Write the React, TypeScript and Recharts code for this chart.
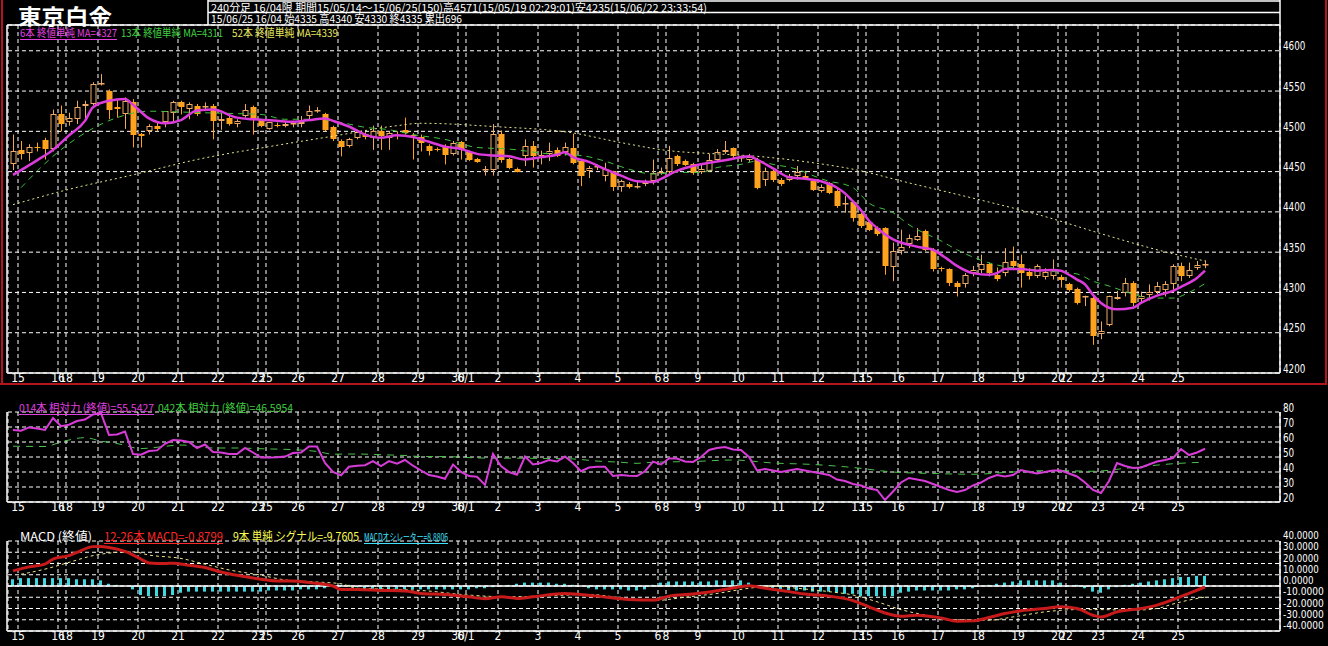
import React from 'react';
import { ComposedChart, Bar, Line, XAxis, YAxis, CartesianGrid, ReferenceLine } from 'recharts';

// 240-minute bars, 15/05/14 - 15/06/25 (150 bars)
const opens = [
  4459, 4477, 4473, 4481, 4489, 4478, 4521, 4512, 4515, 4532,
  4534, 4559, 4550, 4530, 4521, 4536, 4497, 4500, 4507, 4511,
  4523, 4537, 4528, 4532, 4530, 4532, 4513, 4517, 4509, 4519,
  4530, 4515, 4503, 4508, 4507, 4509, 4509, 4519, 4525, 4521,
  4505, 4488, 4482, 4492, 4497, 4492, 4500, 4492, 4496, 4502,
  4495, 4493, 4482, 4478, 4482, 4472, 4487, 4474, 4466, 4452,
  4452, 4497, 4466, 4453, 4470, 4482, 4470, 4472, 4477, 4474,
  4479, 4463, 4451, 4456, 4444, 4451, 4431, 4435, 4431, 4435,
  4438, 4448, 4450, 4470, 4463, 4460, 4450, 4451, 4465, 4474,
  4479, 4467, 4465, 4465, 4440, 4451, 4440, 4440, 4444, 4445,
  4438, 4426, 4436, 4426, 4410, 4412, 4397, 4388, 4380, 4380,
  4331, 4351, 4360, 4365, 4376, 4353, 4330, 4329, 4312, 4310,
  4324, 4328, 4335, 4322, 4324, 4339, 4335, 4326, 4320, 4319,
  4321, 4319, 4310, 4304, 4294, 4293, 4248, 4260, 4292, 4299,
  4312, 4292, 4297, 4300, 4303, 4310, 4333, 4320, 4330, 4335,
];
const highs = [
  4496, 4488, 4484, 4486, 4492, 4527, 4532, 4523, 4538, 4538,
  4561, 4571, 4552, 4540, 4542, 4540, 4498, 4509, 4511, 4525,
  4538, 4538, 4536, 4534, 4536, 4534, 4523, 4519, 4515, 4534,
  4532, 4515, 4511, 4511, 4512, 4513, 4519, 4532, 4530, 4523,
  4507, 4490, 4492, 4500, 4499, 4507, 4507, 4500, 4500, 4517,
  4498, 4496, 4484, 4480, 4484, 4488, 4488, 4476, 4467, 4457,
  4509, 4501, 4467, 4455, 4490, 4488, 4476, 4486, 4480, 4486,
  4497, 4463, 4457, 4459, 4461, 4451, 4440, 4437, 4438, 4440,
  4465, 4455, 4482, 4471, 4465, 4461, 4459, 4472, 4478, 4488,
  4480, 4470, 4472, 4467, 4455, 4453, 4442, 4447, 4457, 4451,
  4440, 4434, 4437, 4428, 4420, 4413, 4399, 4390, 4382, 4381,
  4362, 4378, 4372, 4380, 4378, 4355, 4332, 4330, 4314, 4324,
  4333, 4347, 4337, 4331, 4355, 4357, 4347, 4330, 4335, 4330,
  4341, 4322, 4312, 4306, 4296, 4295, 4264, 4296, 4302, 4318,
  4314, 4301, 4310, 4313, 4314, 4335, 4337, 4337, 4339, 4340,
];
const lows = [
  4452, 4465, 4463, 4475, 4465, 4475, 4500, 4507, 4509, 4515,
  4532, 4557, 4515, 4517, 4503, 4480, 4480, 4496, 4500, 4505,
  4511, 4521, 4515, 4519, 4525, 4490, 4502, 4507, 4505, 4517,
  4496, 4505, 4502, 4505, 4505, 4505, 4505, 4515, 4523, 4500,
  4488, 4469, 4480, 4490, 4490, 4477, 4477, 4477, 4490, 4496,
  4465, 4475, 4470, 4475, 4459, 4470, 4465, 4463, 4461, 4445,
  4445, 4461, 4453, 4449, 4457, 4455, 4459, 4463, 4468, 4470,
  4459, 4432, 4442, 4452, 4438, 4426, 4425, 4429, 4429, 4432,
  4434, 4446, 4447, 4457, 4457, 4446, 4447, 4450, 4463, 4472,
  4467, 4462, 4462, 4428, 4432, 4437, 4432, 4438, 4440, 4440,
  4426, 4424, 4422, 4405, 4399, 4388, 4380, 4376, 4370, 4322,
  4314, 4347, 4355, 4364, 4351, 4326, 4326, 4308, 4295, 4306,
  4320, 4324, 4320, 4314, 4320, 4329, 4306, 4316, 4318, 4316,
  4316, 4306, 4301, 4285, 4283, 4235, 4242, 4258, 4291, 4295,
  4283, 4288, 4290, 4298, 4295, 4300, 4314, 4318, 4328, 4330,
];
const closes = [
  4475, 4472, 4481, 4480, 4478, 4521, 4509, 4516, 4530, 4534,
  4559, 4560, 4527, 4528, 4538, 4496, 4494, 4507, 4503, 4525,
  4536, 4530, 4534, 4521, 4532, 4513, 4515, 4509, 4513, 4527,
  4515, 4507, 4511, 4507, 4509, 4510, 4512, 4525, 4527, 4502,
  4490, 4481, 4491, 4499, 4493, 4500, 4494, 4498, 4495, 4498,
  4494, 4486, 4476, 4477, 4471, 4486, 4478, 4464, 4462, 4453,
  4497, 4465, 4455, 4450, 4482, 4470, 4471, 4476, 4470, 4480,
  4461, 4445, 4455, 4457, 4453, 4431, 4438, 4431, 4432, 4437,
  4448, 4450, 4467, 4459, 4458, 4448, 4453, 4465, 4474, 4477,
  4469, 4468, 4468, 4430, 4451, 4440, 4435, 4444, 4450, 4442,
  4427, 4431, 4424, 4407, 4411, 4392, 4382, 4378, 4372, 4333,
  4351, 4357, 4367, 4370, 4353, 4329, 4329, 4312, 4307, 4322,
  4328, 4335, 4324, 4317, 4338, 4333, 4324, 4320, 4333, 4326,
  4328, 4315, 4303, 4287, 4295, 4246, 4252, 4295, 4294, 4312,
  4287, 4296, 4300, 4308, 4310, 4333, 4320, 4328, 4334, 4335,
];

// moving averages as [bar, value]
const ma6Pts = [
  [0, 4446], [3, 4464], [5, 4477], [7, 4495], [9, 4513], [10, 4530], [12, 4538], [14, 4540],
  [15, 4533], [17, 4516], [19, 4510], [21, 4514], [23, 4526], [25, 4527], [28, 4517], [30, 4515],
  [33, 4513], [35, 4512], [37, 4514], [39, 4516], [40, 4513], [42, 4506], [44, 4496], [46, 4492],
  [48, 4495], [50, 4493], [52, 4487], [54, 4481], [56, 4478], [58, 4472], [60, 4470], [62, 4469],
  [64, 4465], [66, 4468], [68, 4471], [69, 4474], [70, 4468], [72, 4462], [74, 4453], [76, 4445],
  [78, 4438], [80, 4437], [81, 4441], [83, 4451], [85, 4457], [87, 4461], [89, 4464], [91, 4468],
  [92, 4469], [93, 4465], [95, 4454], [97, 4443], [99, 4441], [101, 4438], [103, 4430], [104, 4423],
  [105, 4413], [106, 4402], [107, 4389], [108, 4380], [110, 4366], [112, 4359], [114, 4355], [115, 4353],
  [116, 4347], [117, 4340], [118, 4333], [120, 4324], [122, 4322], [123, 4324], [124, 4329], [126, 4329],
  [128, 4327], [130, 4328], [131, 4327], [132, 4322], [133, 4316], [134, 4310], [135, 4297], [136, 4287],
  [137, 4281], [138, 4279], [140, 4281], [141, 4287], [143, 4296], [145, 4302], [146, 4307], [148, 4318],
  [149, 4327],
];
const ma13Pts = [
  [1, 4430], [5, 4469], [9, 4498], [13, 4517], [17, 4525], [21, 4524], [24, 4523], [28, 4522],
  [31, 4521], [34, 4515], [38, 4515], [41, 4511], [44, 4505], [47, 4502], [50, 4496], [54, 4490],
  [58, 4480], [62, 4478], [67, 4472], [71, 4470], [74, 4463], [77, 4453], [80, 4447], [83, 4449],
  [86, 4449], [88, 4455], [91, 4459], [93, 4463], [95, 4459], [98, 4453], [100, 4445], [102, 4438],
  [104, 4434], [105, 4430], [107, 4411], [110, 4399], [112, 4384], [116, 4364], [118, 4353], [121, 4340],
  [124, 4332], [127, 4329], [130, 4326], [133, 4323], [135, 4314], [137, 4308], [140, 4298], [142, 4293],
  [145, 4293], [147, 4300], [149, 4311],
];
const ma52Pts = [
  [0, 4409], [7, 4428], [15, 4446], [23, 4465], [32, 4481], [40, 4494], [48, 4507], [51, 4510],
  [60, 4506], [70, 4498], [76, 4486], [82, 4476], [88, 4472], [93, 4469], [100, 4461], [105, 4453],
  [112, 4436], [120, 4417], [128, 4397], [137, 4370], [143, 4353], [149, 4339],
];

// relative strength
const rsi14 = [
  68, 67.5, 69.7, 69, 68, 76, 70.5, 71.5, 74, 75,
  78.4, 79.3, 64.7, 65, 67, 52, 51.5, 54, 54.4, 58.8,
  61.3, 61, 60, 56, 58.3, 53.3, 53, 52, 52, 56,
  53, 49.6, 49.6, 49.8, 50.3, 52.6, 53, 57, 57, 46,
  40, 37.8, 43.5, 44.2, 44.5, 47.3, 44, 47.3, 45.5, 48,
  44.2, 41, 38, 37, 35.5, 45, 40, 37.3, 36.8, 31.4,
  52, 44, 40, 38.2, 50.3, 45, 46, 48, 47, 50.3,
  46, 40.5, 43, 43.5, 43.5, 37.3, 38, 37.5, 37.3, 40.5,
  46.9, 45, 49, 49, 47, 46.7, 50, 54.7, 56, 56.7,
  55, 54.7, 50, 41, 42, 41, 40, 41, 42, 41,
  40, 39, 38, 35, 34, 32, 31, 29, 28, 21.3,
  27, 33, 36, 35, 34, 32, 30, 28, 26.7, 28,
  31, 33, 36, 38, 37, 38, 41.3, 40, 39, 40,
  41, 41, 39, 37, 33, 28, 26, 34, 46, 44,
  42.7, 43, 45, 47, 48, 49.3, 55.3, 51.3, 53, 55.5,
];
const rsi42Pts = [
  [0, 57.2], [4, 57], [6, 60], [9, 62.9], [11, 60.6], [13, 59], [16, 55.6], [18, 56.5],
  [21, 58], [25, 56], [28, 56], [31, 55.5], [35, 54.9], [38, 53.7], [40, 51.9], [43, 52],
  [46, 51.5], [49, 51], [51, 50.3], [54, 50.3], [57, 49.6], [60, 49.2], [63, 49.2], [67, 49],
  [70, 48.7], [73, 47.3], [76, 46.5], [78, 45.8], [80, 46.5], [85, 47], [90, 48], [95, 46],
  [100, 45], [105, 43], [110, 40], [115, 39], [120, 38.5], [125, 40], [130, 41], [135, 40.5],
  [140, 43], [145, 45.5], [149, 46.6],
];

// MACD 12-26, signal 9
const macdPts = [
  [0, 13.4], [2, 17], [4, 19.4], [5, 23.9], [7, 27], [8, 29.9], [10, 35], [11, 35.2],
  [12, 34.3], [14, 30.7], [16, 23.9], [17, 20.5], [19, 20], [20, 20.3], [22, 18.5], [24, 16.4],
  [26, 12.5], [28, 9.5], [31, 6], [33, 4.5], [35, 4.5], [37, 3], [40, 0], [41, -3],
  [43, -3], [46, -3.9], [49, -4.5], [51, -6.6], [54, -7.5], [57, -9.6], [59, -11.3], [61, -9.6],
  [63, -11], [65, -9.6], [69, -6.6], [73, -9], [77, -12], [80, -12.5], [82, -9], [85, -7.2],
  [88, -4.2], [91, -0.6], [92, 0.3], [94, -2], [97, -5], [99, -7.2], [102, -9], [105, -13],
  [107, -18.5], [109, -24], [111, -26.9], [113, -26], [116, -28.4], [118, -31.3], [120, -31], [122, -28],
  [124, -24.5], [126, -22], [129, -20], [131, -18.5], [133, -20], [135, -26], [136, -27.5], [138, -23],
  [141, -20], [143, -17], [145, -12], [147, -6.5], [149, -0.9],
];
const signalPts = [
  [1, 10.4], [4, 15], [7, 21], [10, 27], [13, 29.9], [15, 30.4], [17, 27.5], [21, 24.5],
  [24, 19.4], [27, 14.3], [31, 9.6], [34, 5.4], [37, 3.9], [41, 2], [43, -2], [48, -3],
  [52, -4.5], [56, -7.5], [62, -9.6], [68, -8.4], [72, -7.5], [76, -10.4], [80, -13], [84, -10],
  [88, -6.6], [92, -2], [95, 0], [98, -2], [102, -5], [105, -8], [108, -14], [111, -21],
  [115, -27], [118, -30], [122, -30.4], [125, -27.5], [129, -23], [133, -21], [136, -21], [140, -21.5],
  [143, -20], [145, -16], [147, -12.5], [149, -9.8],
];
const oscillator = [
  6, 7, 7, 7, 7, 7, 7, 7, 6, 6, 6, 5,
  2, 1, 0,
  -3, -8, -9, -9, -9, -8, -6, -5, -5, -5, -5,
  -5, -5, -5, -5, -5, -5, -4, -4, -4, -4, -3, -3, -3, -2,
  1, 1, 1, -1,
  -3, -3, -3, -3, -3, -3, -3, -3, -3, -3, -3, -3, -3, -3, -2, -2, -1,
  0, 1, 2, 3, 3, 3, 3, 2, 2, 1, 0,
  -2, -3, -3, -3, -3, -4, -4, -3,
  1, 3, 4, 4, 4, 4, 4, 4, 5, 5, 5, 5, 3,
  -1, -2, -3, -4, -4, -4, -4, -5, -5, -5, -6,
  -7, -7, -9, -9, -9, -9, -9,
  -6, -5, -4, -4, -4, -4, -4, -3, -3, -2, 0,
  1, 2, 3, 4, 5, 5, 5, 5, 5, 3,
  0, 1, -2, -5, -6, -3,
  -1, 1, 2, 3, 4, 5, 6, 7, 8, 8, 9, 9,
];

// day separators: label and first bar of each day
const dayLabels = [
  '15', '16', '18', '19', '20', '21', '22', '23', '25', '26', '27', '28', '29', '30', '6/1',
  '2', '3', '4', '5', '6', '8', '9', '10', '11', '12', '13', '15', '16', '17', '18', '19',
  '20', '22', '23', '24', '25',
];
const dayStarts = [
  1, 6, 7, 11, 16, 21, 26, 31, 32, 36, 41, 46, 51, 56, 57,
  61, 66, 71, 76, 81, 82, 86, 91, 96, 101, 106, 107, 111, 116, 121, 126,
  131, 132, 136, 141, 146,
];

const priceTicks = [4200, 4250, 4300, 4350, 4400, 4450, 4500, 4550, 4600];
const rsiTicks = [20, 30, 40, 50, 60, 70, 80];
const macdTicks = [-40, -30, -20, -10, 0, 10, 20, 30, 40];

const FONT = "'Liberation Sans Narrow', 'DejaVu Sans Condensed', 'Noto Sans CJK JP', sans-serif";
const JP = "'Liberation Sans Narrow', 'Noto Sans CJK JP', sans-serif";
const W = 1328;
const X_DOMAIN = [-0.625, 158.375];
const gridX = dayStarts.map((s) => s - 0.375);
const labelAt = new Map(gridX.map((g, k) => [g, dayLabels[k]]));

const lookup = (pts) => {
  const m = new Map(pts.map(([i, v]) => [i, v]));
  return (i) => (m.has(i) ? m.get(i) : null);
};
const ma6 = lookup(ma6Pts);
const ma13 = lookup(ma13Pts);
const ma52 = lookup(ma52Pts);
const rsi42 = lookup(rsi42Pts);
const macd = lookup(macdPts);
const signal = lookup(signalPts);

const rows = closes.map((c, i) => ({
  i,
  open: opens[i],
  high: highs[i],
  low: lows[i],
  close: c,
  ma6: ma6(i),
  ma13: ma13(i),
  ma52: ma52(i),
  rsi14: rsi14[i],
  rsi42: rsi42(i),
  macd: macd(i),
  signal: signal(i),
  osc: oscillator[i],
}));

function Candle(props) {
  const { x, y, width, height, payload } = props;
  if (!payload || x == null) return null;
  const top = Math.min(y, y + height);
  const h = Math.abs(height);
  const { open, high, low, close } = payload;
  const span = high - low || 1;
  const py = (p) => top + ((high - p) / span) * h;
  const cx = Math.round(x + width / 2) + 0.5;
  const up = close >= open;
  const bt = Math.round(py(Math.max(open, close)));
  const bb = Math.max(Math.round(py(Math.min(open, close))), bt + 1);
  const color = up ? '#eda865' : '#ffa31f';
  return (
    <g>
      <line x1={cx} x2={cx} y1={top} y2={bt} stroke={color} strokeWidth={1} />
      <line x1={cx} x2={cx} y1={bb} y2={top + h} stroke={color} strokeWidth={1} />
      {up ? (
        <rect x={cx - 2.5} y={bt + 0.5} width={5} height={bb - bt - 1 > 0 ? bb - bt - 1 : 0.5} fill="#000" stroke={color} strokeWidth={1} />
      ) : (
        <rect x={cx - 3} y={bt} width={6} height={bb - bt} fill={color} />
      )}
    </g>
  );
}

// right-hand value labels, squeezed to the narrow terminal font width
const rightTick = (fmt, dy, charW, size = 12) => (p) => {
  const s = fmt(p.payload.value);
  return (
    <text
      x={p.x}
      y={p.y + dy}
      fill="#fff"
      fontSize={size}
      fontFamily={FONT}
      dominantBaseline="middle"
      textLength={s.length * charW}
      lengthAdjust="spacingAndGlyphs"
    >
      {s}
    </text>
  );
};

const xAxisProps = {
  dataKey: 'i',
  type: 'number',
  domain: X_DOMAIN,
  ticks: gridX,
  interval: 0,
  allowDataOverflow: true,
  tickLine: false,
  axisLine: false,
  tickSize: 0,
  tickMargin: 0,
  tick: { fill: '#fff', fontSize: 12, fontFamily: FONT },
  tickFormatter: (v) => labelAt.get(v) ?? '',
};

const yAxisBase = {
  orientation: 'right',
  type: 'number',
  allowDataOverflow: true,
  interval: 0,
  width: 48,
  axisLine: false,
  tickLine: false,
  tickSize: 0,
  tickMargin: 3,
};

const Txt = ({ x, y, w, color, size = 11, children, underline = false }) => (
  <g>
    <text x={x} y={y} fill={color} fontSize={size} fontFamily={JP} textLength={w} lengthAdjust="spacingAndGlyphs">
      {children}
    </text>
    {underline && <line x1={x} x2={x + w} y1={y + 2.5} y2={y + 2.5} stroke={color} strokeWidth={1} />}
  </g>
);

export default function App() {
  return (
    <div style={{ position: 'absolute', left: 0, top: 0, width: W, height: 646, background: '#000', overflow: 'hidden' }}>
      {/* price panel */}
      <div style={{ position: 'absolute', left: 0, top: 0 }}>
        <ComposedChart width={W} height={390} data={rows} margin={{ top: 25, right: 0, bottom: 0, left: 8 }}>
          <CartesianGrid stroke="#fff" strokeDasharray="4 3" />
          <XAxis {...xAxisProps} height={17} />
          <YAxis {...yAxisBase} domain={[4200, 4632]} ticks={priceTicks} tick={rightTick((v) => String(v), -4, 5.6)} />
          <Line dataKey="ma52" stroke="#e8e88c" strokeWidth={1} strokeDasharray="2 3" dot={false} connectNulls type="monotone" isAnimationActive={false} />
          <Line dataKey="ma13" stroke="#3fbf3f" strokeWidth={1} strokeDasharray="6 5" dot={false} connectNulls type="monotone" isAnimationActive={false} />
          <Bar dataKey={(d) => [d.low, d.high]} barSize={6} shape={(p) => <Candle {...p} />} isAnimationActive={false} />
          <Line dataKey="ma6" stroke="#dc3cdc" strokeWidth={2.5} dot={false} connectNulls type="monotone" isAnimationActive={false} />
        </ComposedChart>
      </div>

      {/* relative strength panel */}
      <div style={{ position: 'absolute', left: 0, top: 395 }}>
        <ComposedChart width={W} height={123} data={rows} margin={{ top: 17, right: 0, bottom: 0, left: 8 }}>
          <CartesianGrid stroke="#fff" strokeDasharray="4 3" />
          <XAxis {...xAxisProps} height={16} />
          <YAxis {...yAxisBase} domain={[20, 80]} ticks={rsiTicks} tick={rightTick((v) => String(v), -4, 5.6)} />
          <Line dataKey="rsi42" stroke="#4cc04c" strokeWidth={1} strokeDasharray="7 6" dot={false} connectNulls type="monotone" isAnimationActive={false} />
          <Line dataKey="rsi14" stroke="#d83cd8" strokeWidth={2} dot={false} type="linear" isAnimationActive={false} />
        </ComposedChart>
      </div>

      {/* MACD panel */}
      <div style={{ position: 'absolute', left: 0, top: 520 }}>
        <ComposedChart width={W} height={126} data={rows} margin={{ top: 21, right: 0, bottom: 0, left: 8 }}>
          <CartesianGrid stroke="#fff" strokeDasharray="4 3" />
          <XAxis {...xAxisProps} height={15} />
          <YAxis {...yAxisBase} domain={[-40, 40]} ticks={macdTicks} tick={rightTick((v) => v.toFixed(4), -5, 5.1, 11)} />
          <ReferenceLine y={0} stroke="#fff" strokeWidth={1.5} />
          <Bar dataKey="osc" barSize={3} fill="#3fd8e0" isAnimationActive={false} />
          <Line dataKey="signal" stroke="#f0e68c" strokeWidth={1} strokeDasharray="3 3" dot={false} connectNulls type="monotone" isAnimationActive={false} />
          <Line dataKey="macd" stroke="#c81a1a" strokeWidth={3} dot={false} connectNulls type="monotone" isAnimationActive={false} />
        </ComposedChart>
      </div>

      {/* frames, header and legends */}
      <svg width={W} height={646} style={{ position: 'absolute', left: 0, top: 0, pointerEvents: 'none' }}>
        <g stroke="#b4141e" strokeWidth={2}>
          <line x1={2} x2={2} y1={0} y2={385} />
          <line x1={0} x2={1327} y1={384} y2={384} />
          <line x1={1326} x2={1326} y1={0} y2={385} />
        </g>
        <g stroke="#fff" strokeWidth={1.5}>
          <line x1={208} x2={1280} y1={1} y2={1} />
          <line x1={208} x2={1280} y1={12.5} y2={12.5} />
          <line x1={7} x2={1280} y1={25} y2={25} />
          <line x1={208} x2={208} y1={0} y2={25} />
          <line x1={1280} x2={1280} y1={0} y2={373} />
          <line x1={7} x2={7} y1={25} y2={373} />
          <line x1={7} x2={1280} y1={373} y2={373} />
          <line x1={7} x2={7} y1={412} y2={502} />
          <line x1={1280} x2={1280} y1={412} y2={502} />
          <line x1={7} x2={1280} y1={502} y2={502} />
          <line x1={7} x2={7} y1={541} y2={631} />
          <line x1={1280} x2={1280} y1={541} y2={631} />
          <line x1={7} x2={1280} y1={631} y2={631} />
        </g>
        <text x={18} y={24} fill="#fff" fontSize={21} fontWeight="bold" fontFamily="'Noto Sans CJK JP', sans-serif" textLength={94} lengthAdjust="spacingAndGlyphs">
          東京白金
        </text>
        <Txt x={211} y={11.5} w={496} color="#fff" size={11}>
          240分足 16/04限 期間15/05/14～15/06/25(150)高4571(15/05/19 02:29:01)安4235(15/06/22 23:33:54)
        </Txt>
        <Txt x={211} y={23} w={251} color="#fff" size={11}>
          15/06/25 16/04 始4335 高4340 安4330 終4335 累出696
        </Txt>
        <Txt x={20} y={37} w={97} color="#e040e0" underline>6本 終値単純 MA=4327</Txt>
        <Txt x={121} y={37} w={102} color="#40d040">13本 終値単純 MA=4311</Txt>
        <Txt x={232} y={37} w={106} color="#e8e860">52本 終値単純 MA=4339</Txt>

        <Txt x={19} y={412} w={135} color="#e040e0" underline>014本 相対力 (終値)=55.5427</Txt>
        <Txt x={158} y={412} w={135} color="#40d040">042本 相対力 (終値)=46.5954</Txt>

        <Txt x={20} y={541} w={72} color="#fff" size={12}>MACD (終値)</Txt>
        <Txt x={104} y={541} w={119} color="#ff2828" size={12} underline>12-26本 MACD=-0.8799</Txt>
        <Txt x={233} y={541} w={126} color="#ffff50" size={12}>9本 単純 シグナル=-9.7605</Txt>
        <Txt x={364} y={541} w={84} color="#40e0ff" size={10} underline>MACDオシレーター=8.8806</Txt>
      </svg>
    </div>
  );
}
